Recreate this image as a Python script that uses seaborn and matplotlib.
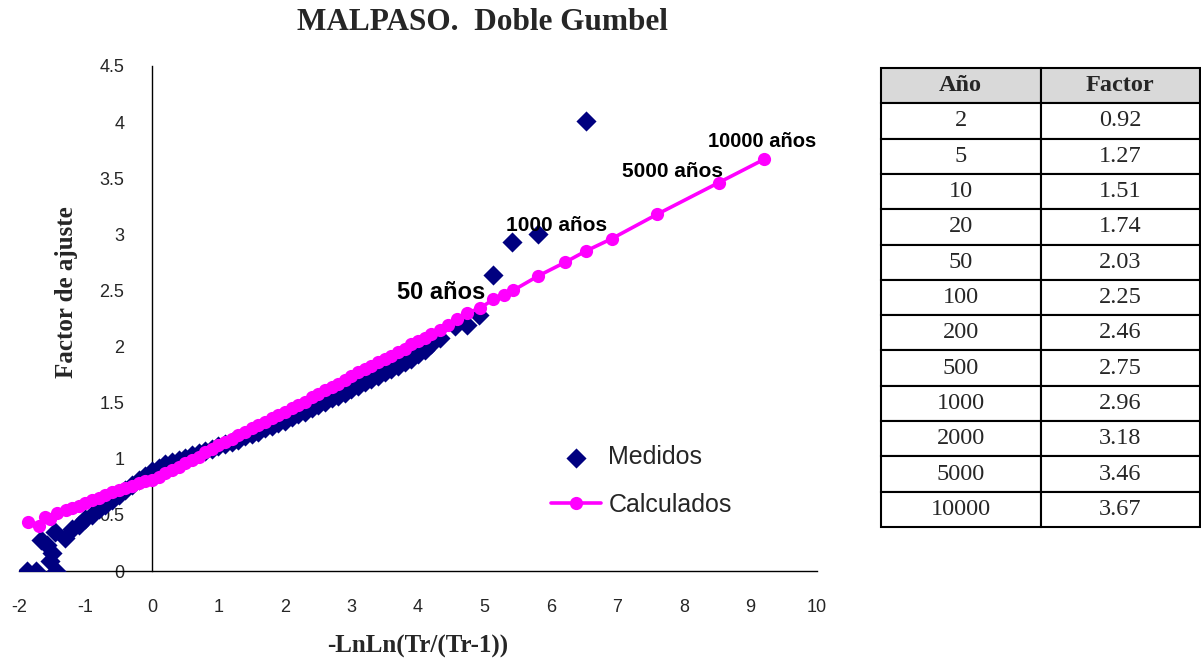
import matplotlib
matplotlib.use("Agg")
import matplotlib.pyplot as plt
import seaborn as sns
import pandas as pd

# ---------------- data ----------------
meas_x = [-1.88, -1.75, -1.45, -1.53, -1.51, -1.58, -1.67, -1.46, -1.31, -1.21,
          -1.10, -1.00, -0.90, -0.80, -0.70, -0.60, -0.50, -0.40, -0.30, -0.20,
          -0.10, 0.00, 0.10, 0.20, 0.30, 0.40, 0.50, 0.60, 0.70, 0.80,
          0.90, 1.00, 1.10, 1.20, 1.30, 1.40, 1.50, 1.60, 1.70, 1.80,
          1.90, 2.00, 2.10, 2.20, 2.30, 2.40, 2.50, 2.60, 2.70, 2.80,
          2.90, 3.00, 3.10, 3.20, 3.30, 3.40, 3.50, 3.60, 3.70, 3.80,
          3.90, 4.00, 4.10, 4.20, 4.33, 4.56, 4.73, 4.92, 5.13, 5.41,
          5.81, 6.52]
meas_y = [0.00, 0.00, 0.00, 0.09, 0.16, 0.23, 0.28, 0.35, 0.29, 0.37,
          0.41, 0.46, 0.50, 0.55, 0.59, 0.63, 0.68, 0.72, 0.77, 0.81,
          0.85, 0.89, 0.92, 0.95, 0.97, 0.99, 1.01, 1.03, 1.05, 1.07,
          1.09, 1.11, 1.13, 1.15, 1.17, 1.20, 1.22, 1.24, 1.27, 1.29,
          1.32, 1.34, 1.37, 1.40, 1.42, 1.45, 1.48, 1.51, 1.54, 1.56,
          1.59, 1.62, 1.65, 1.68, 1.71, 1.74, 1.77, 1.80, 1.83, 1.86,
          1.89, 1.93, 1.97, 2.02, 2.08, 2.18, 2.19, 2.28, 2.64, 2.93,
          3.00, 4.01]

calc_x = [-1.86, -1.70, -1.61, -1.54, -1.43, -1.30, -1.20, -1.10, -1.00, -0.90,
          -0.80, -0.70, -0.60, -0.50, -0.40, -0.30, -0.20, -0.10, 0.00, 0.10,
          0.20, 0.30, 0.40, 0.50, 0.60, 0.70, 0.80, 0.90, 1.00, 1.10,
          1.20, 1.30, 1.40, 1.50, 1.60, 1.70, 1.80, 1.90, 2.00, 2.10,
          2.20, 2.30, 2.40, 2.50, 2.60, 2.70, 2.80, 2.90, 3.00, 3.10,
          3.20, 3.30, 3.40, 3.50, 3.60, 3.70, 3.80, 3.90, 4.00, 4.10,
          4.20, 4.33, 4.45, 4.58, 4.73, 4.93, 5.13, 5.30, 5.43, 5.81,
          6.21, 6.52, 6.91, 7.60, 8.52, 9.21]
calc_y = [0.44, 0.40, 0.48, 0.46, 0.52, 0.54, 0.56, 0.58, 0.61, 0.63,
          0.65, 0.68, 0.70, 0.72, 0.74, 0.76, 0.78, 0.80, 0.81, 0.84,
          0.87, 0.90, 0.93, 0.96, 0.99, 1.02, 1.06, 1.09, 1.12, 1.15,
          1.18, 1.21, 1.24, 1.27, 1.30, 1.33, 1.36, 1.39, 1.42, 1.45,
          1.48, 1.51, 1.55, 1.58, 1.61, 1.64, 1.67, 1.70, 1.74, 1.77,
          1.80, 1.83, 1.86, 1.89, 1.92, 1.95, 1.98, 2.02, 2.05, 2.08,
          2.11, 2.15, 2.19, 2.25, 2.30, 2.34, 2.42, 2.46, 2.50, 2.63,
          2.75, 2.85, 2.96, 3.18, 3.46, 3.67]

label_text = ["50 años", "1000 años", "5000 años", "10000 años"]
label_x = [4.35, 6.09, 7.83, 9.17]
label_y = [2.48, 3.08, 3.56, 3.83]

table_years = ["2", "5", "10", "20", "50", "100", "200", "500", "1000", "2000", "5000", "10000"]
table_factor = ["0.92", "1.27", "1.51", "1.74", "2.03", "2.25", "2.46", "2.75", "2.96", "3.18", "3.46", "3.67"]

x_ticks = [-2, -1, 0, 1, 2, 3, 4, 5, 6, 7, 8, 9, 10]
y_ticks = [0, 0.5, 1, 1.5, 2, 2.5, 3, 3.5, 4, 4.5]
y_tick_labels = ["0", "0.5", "1", "1.5", "2", "2.5", "3", "3.5", "4", "4.5"]

# ---------------- style ----------------
sns.set_style("white")
plt.rcParams["font.family"] = ["Liberation Sans", "DejaVu Sans"]

W, H = 1201, 659
fig = plt.figure(figsize=(W / 100, H / 100), dpi=100)
ax = fig.add_axes([19 / W, 88 / H, 798 / W, 505 / H])

df_m = pd.DataFrame({"x": meas_x, "y": meas_y})
df_c = pd.DataFrame({"x": calc_x, "y": calc_y})

NAVY = "#000080"
MAGENTA = "#FF00FF"

sns.scatterplot(data=df_m, x="x", y="y", marker="D", s=105, color=NAVY,
                edgecolor=NAVY, linewidth=0, label="Medidos", ax=ax, zorder=3)
sns.lineplot(data=df_c, x="x", y="y", sort=False, estimator=None, color=MAGENTA,
             marker="o", markersize=9.5, markeredgewidth=0, linewidth=2.6,
             label="Calculados", ax=ax, zorder=4)

ax.set_xlim(-2, 10)
ax.set_ylim(0, 4.5)
ax.spines["left"].set_position(("data", 0))
ax.spines["right"].set_visible(False)
ax.spines["top"].set_visible(False)
for s in ("left", "bottom"):
    ax.spines[s].set_color("black")
    ax.spines[s].set_linewidth(1.0)

ax.set_xticks(x_ticks)
ax.set_xticklabels([str(t) for t in x_ticks])
ax.set_yticks(y_ticks)
ax.set_yticklabels(y_tick_labels)
ax.tick_params(axis="x", direction="out", length=5, width=1, color="#808080",
               labelsize=13, pad=15)
ax.tick_params(axis="y", direction="out", length=4, width=1, color="#808080",
               labelsize=13, pad=16)
ax.grid(False)

ax.set_xlabel("")
ax.set_ylabel("")
fig.text(418 / W, 1 - 646 / H, "-LnLn(Tr/(Tr-1))", ha="center", va="center",
         family="Liberation Serif", fontweight="bold", fontsize=18)
fig.text(67 / W, 1 - 292 / H, "Factor de ajuste", ha="center", va="center",
         rotation=90, family="Liberation Serif", fontweight="bold", fontsize=18)
fig.text(482 / W, 1 - 23 / H, "MALPASO.  Doble Gumbel", ha="center", va="center",
         family="Liberation Serif", fontweight="bold", fontsize=22.5)

sizes = [17, 15, 15, 14.5]
for t, x, y, fs in zip(label_text, label_x, label_y, sizes):
    ax.text(x, y, t, ha="center", va="center", fontsize=fs, fontweight="bold",
            color="black", zorder=6)

leg = ax.legend(loc="center left", bbox_to_anchor=(551 / W, 1 - 481 / H),
                bbox_transform=fig.transFigure, frameon=False, fontsize=18,
                handlelength=2.0, handletextpad=0.3, labelspacing=0.95,
                borderpad=0, borderaxespad=0)

# ---------------- table ----------------
tax = fig.add_axes([881 / W, (H - 527) / H, 319 / W, 459 / H])
tax.axis("off")
cells = [[a, b] for a, b in zip(table_years, table_factor)]
tbl = tax.table(cellText=cells, colLabels=["Año", "Factor"], cellLoc="center",
                bbox=[0, 0, 1, 1])
tbl.auto_set_font_size(False)
for (r, c), cell in tbl.get_celld().items():
    cell.set_edgecolor("black")
    cell.set_linewidth(1.5)
    txt = cell.get_text()
    txt.set_fontfamily("Liberation Serif")
    txt.set_fontsize(17.5)
    if r == 0:
        cell.set_facecolor("#D9D9D9")
        txt.set_fontweight("bold")
    else:
        cell.set_facecolor("white")

fig.savefig("out.png", dpi=100)
